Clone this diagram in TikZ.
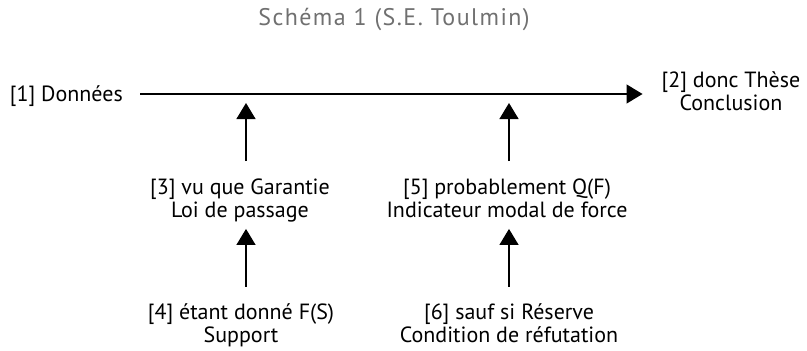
\documentclass[tikz,border=0pt]{standalone}
\usepackage{fontspec}
\setmainfont{PT Sans}
\newfontfamily\titlefont[LetterSpace=6]{PT Sans}
\usetikzlibrary{arrows.meta}
\definecolor{titlegray}{HTML}{707070}
\begin{document}
\begin{tikzpicture}[x=1pt,y=-1pt,
  lbl/.style={font=\fontsize{22}{22}\selectfont, align=center, inner sep=0pt},
  ttl/.style={font=\titlefont\fontsize{24}{26}\selectfont, text=titlegray, inner sep=0pt},
  conn/.style={line width=1.3pt, -{Triangle[width=19pt,length=16pt]}},
]
\useasboundingbox (0,0) rectangle (807,351);
\node[ttl, anchor=base] (title) at (394,25) {Schéma 1 (S.E. Toulmin)};
\node[lbl, anchor=east] (d1) at (123,97) {\strut[1] Données};
\node[lbl] (d2) at (731,94.6) {\strut[2] donc Thèse\\\strut Conclusion};
\node[lbl] (d3) at (240,201.6) {\strut[3] vu que Garantie\\\strut Loi de passage};
\node[lbl] (d4) at (241,326.6) {\strut[4] étant donné F(S)\\\strut Support};
\node[lbl] (d5) at (507,201.6) {\strut[5] probablement Q(F)\\\strut Indicateur modal de force};
\node[lbl] (d6) at (509,326.6) {\strut[6] sauf si Réserve\\\strut Condition de réfutation};
\coordinate (wA) at (246,94);
\coordinate (wB) at (509,94);
\draw[conn, shorten <=17pt, shorten >=19pt] (d1.east |- wA) -- (d2.west |- wA);
\draw[conn, shorten <=17.6pt, shorten >=9pt] (wA |- d3.north) -- (wA);
\draw[conn, shorten <=17.6pt, shorten >=9pt] (wB |- d5.north) -- (wB);
\draw[conn, shorten <=16.6pt, shorten >=4.4pt] (wA |- d4.north) -- (wA |- d3.south);
\draw[conn, shorten <=16.6pt, shorten >=4.4pt] (wB |- d6.north) -- (wB |- d5.south);
\end{tikzpicture}
\end{document}
